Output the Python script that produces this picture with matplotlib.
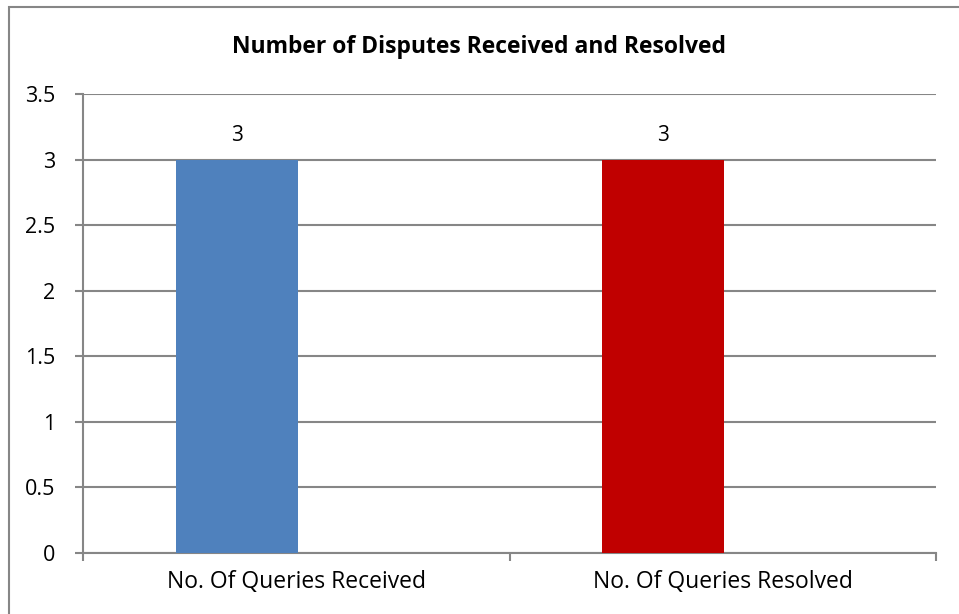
import matplotlib
matplotlib.use("Agg")
import matplotlib.pyplot as plt
import numpy as np

categories = ["No. Of Queries Received", "No. Of Queries Resolved"]
values = [3, 3]
bar_colors = ["#4f81bd", "#c00000"]
title = "Number of Disputes Received and Resolved"
y_ticks = [0, 0.5, 1, 1.5, 2, 2.5, 3, 3.5]

GRID = "#868686"

plt.rcParams["font.family"] = ["Open Sans", "DejaVu Sans"]

fig = plt.figure(figsize=(9.59, 6.14), dpi=100)
ax = fig.add_axes([0.0866, 0.0993, 0.8894, 0.7477])

# chart-area border (only left/top fall inside the image)
fig.patches.append(plt.Rectangle((9 / 959, -0.05), 1.2, 1 - 7 / 614 + 0.05,
                                 transform=fig.transFigure, fill=False,
                                 edgecolor=GRID, linewidth=1.5))

x = np.arange(len(categories))
offset, width = -0.14, 0.286
bars = ax.bar(x + offset, values, width=width, color=bar_colors, zorder=3)
for b, v in zip(bars, values):
    ax.text(b.get_x() + b.get_width() / 2, v + 0.1, f"{v:g}",
            ha="center", va="bottom", fontsize=15)

ax.set_xlim(-0.5, len(categories) - 0.5)
ax.set_ylim(0, 3.5)
ax.set_yticks(y_ticks)
ax.set_yticklabels([f"{t:g}" for t in y_ticks])
ax.yaxis.grid(True, color=GRID, linewidth=1.5, zorder=0)
ax.set_axisbelow(True)

ax.set_xticks(np.arange(len(categories) + 1) - 0.5, minor=False)
ax.set_xticklabels([])
ax.set_xticks(x, minor=True)
ax.set_xticklabels(categories, minor=True, fontsize=16.5)
ax.tick_params(axis="x", which="minor", length=0, pad=12)
ax.tick_params(axis="x", which="major", length=6, width=1.5, color=GRID)
ax.tick_params(axis="y", length=6, width=1.5, color=GRID, labelsize=15.5, pad=14)

for s in ("top", "right"):
    ax.spines[s].set_visible(False)
for s in ("left", "bottom"):
    ax.spines[s].set_color(GRID)
    ax.spines[s].set_linewidth(1.5)

fig.text(0.5, 1 - 47 / 614, title, ha="center", va="center",
         fontsize=16.5, fontweight="bold")

fig.savefig("out.png", dpi=100)
